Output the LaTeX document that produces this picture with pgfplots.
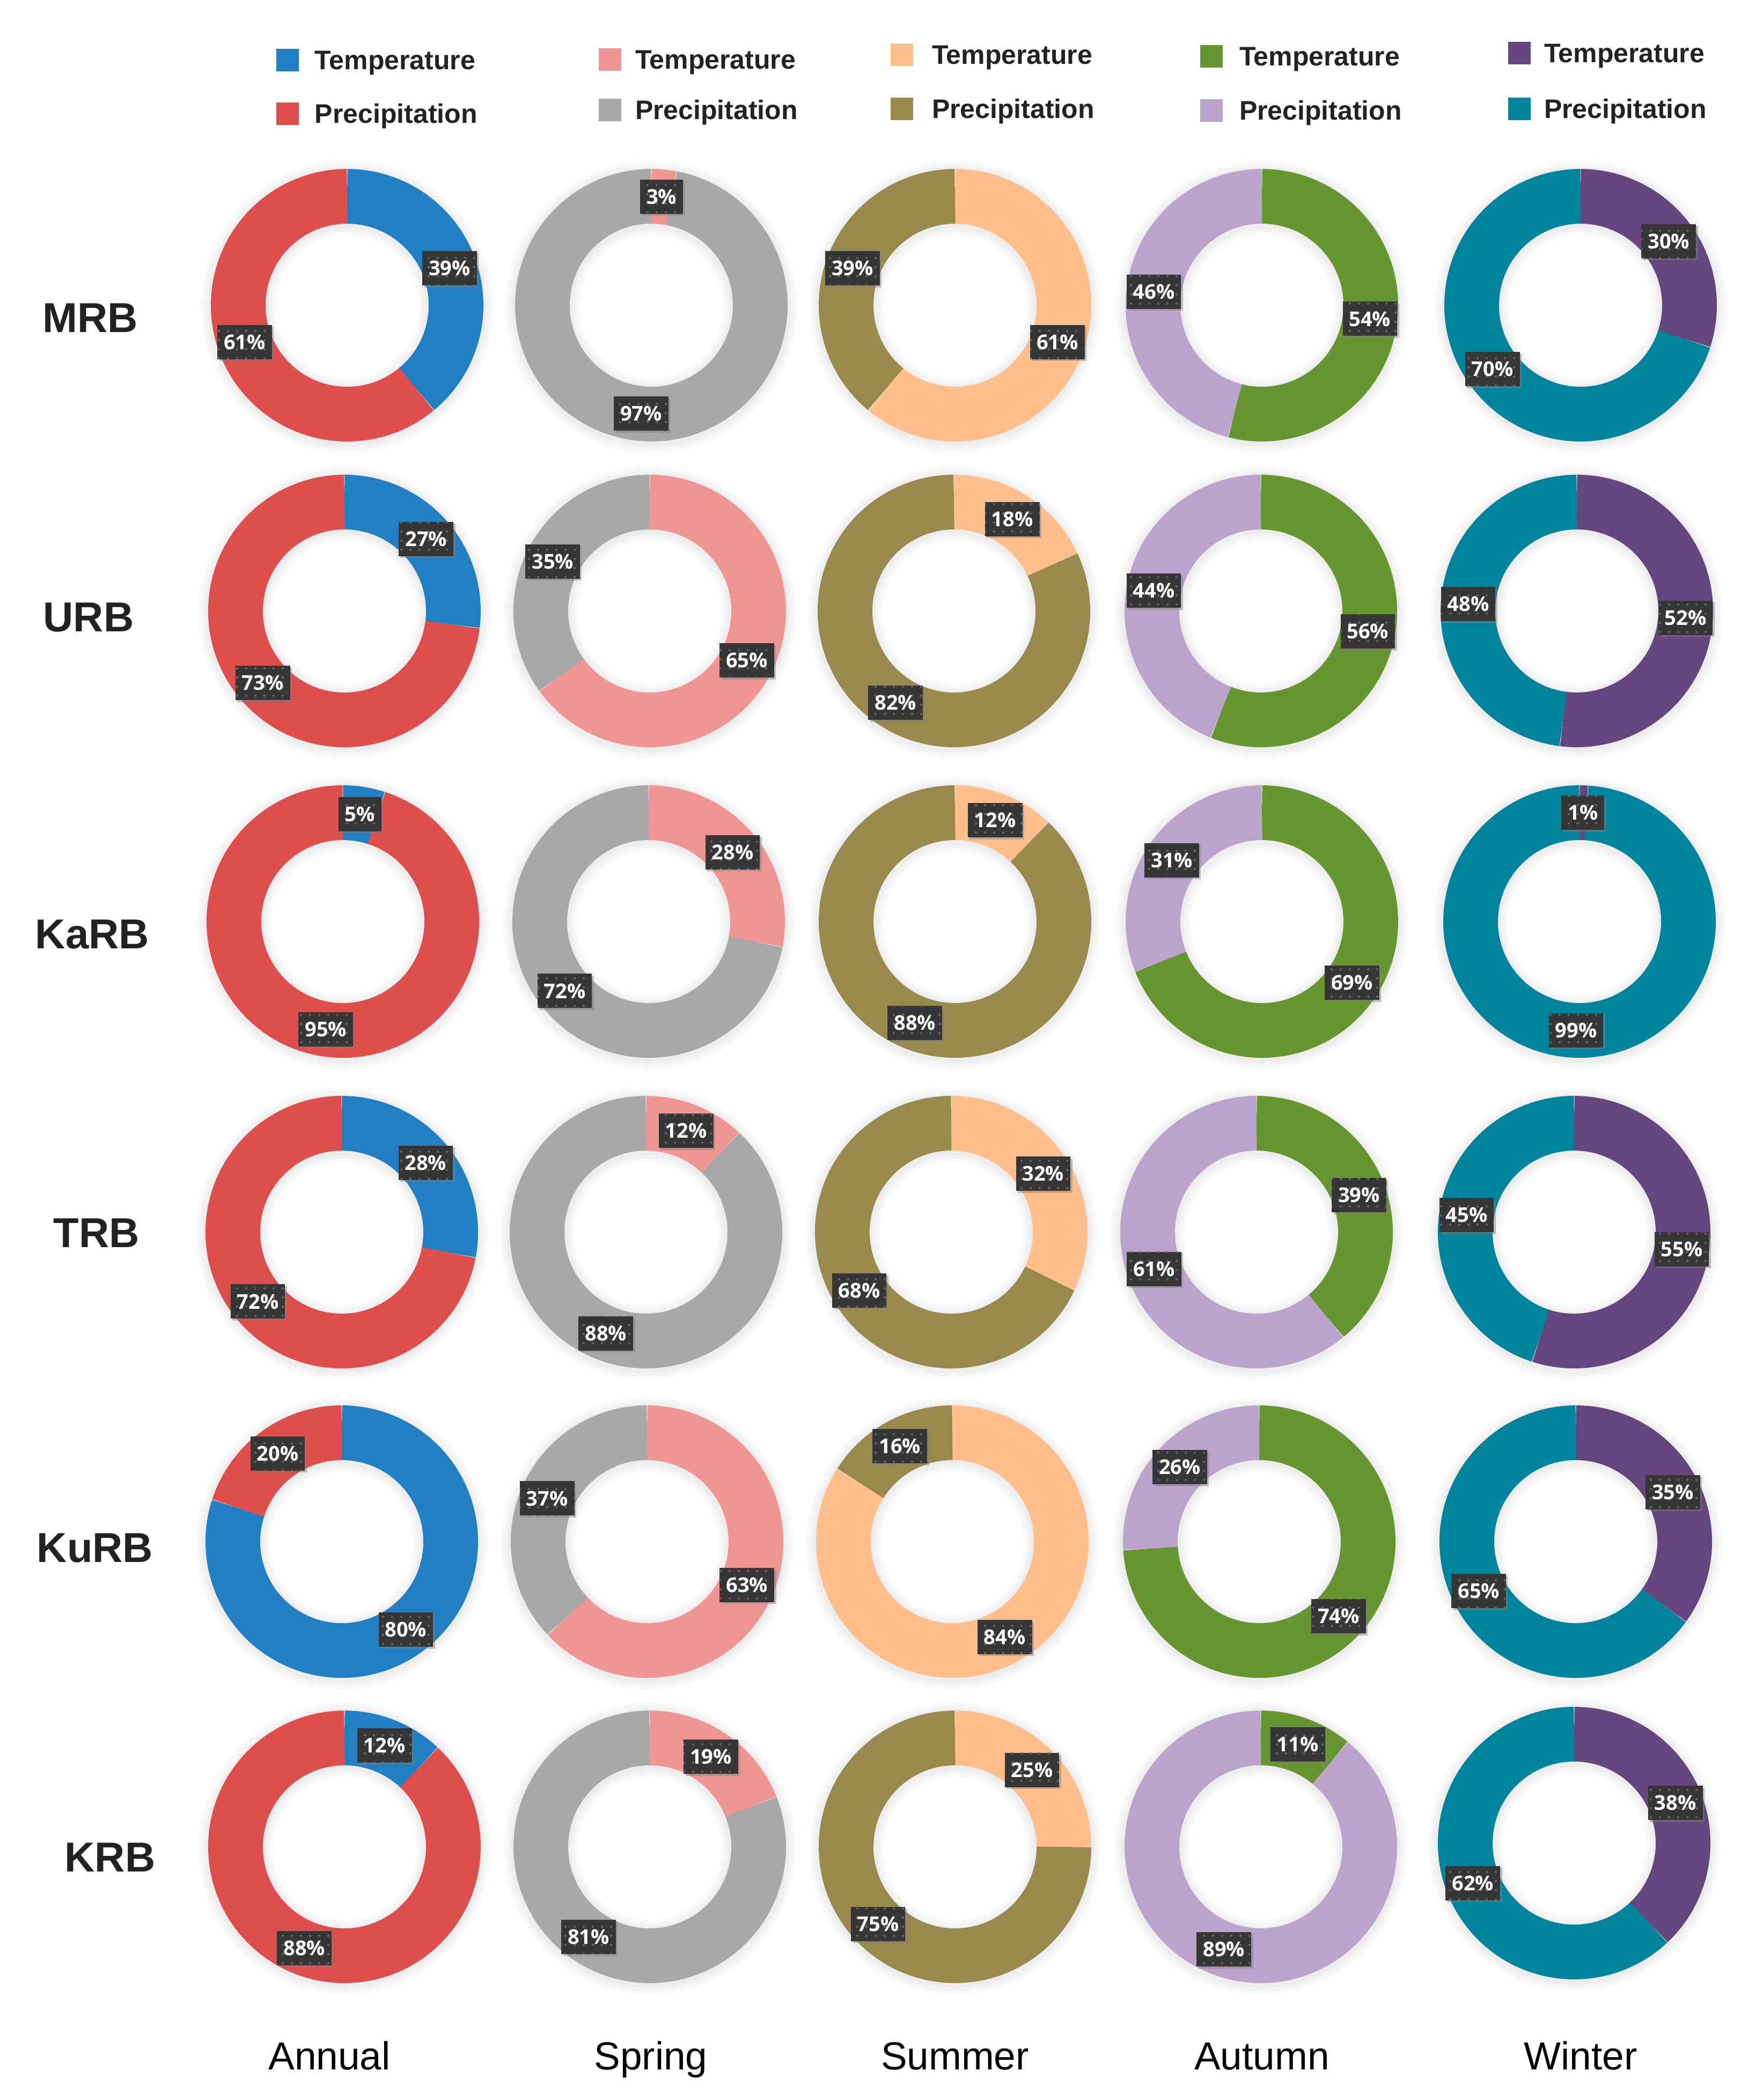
\documentclass[border=0pt]{standalone}
\usepackage{pgfplots}
\pgfplotsset{compat=1.18}
\usetikzlibrary{shadows, patterns.meta}
\usepackage{fontspec}
\setmainfont{Liberation Sans}
\newfontfamily\lblfont{Open Sans}

% palette: T = temperature, P = precipitation; a/s/u/t/w = annual, spring, summer, autumn, winter
\definecolor{cTa}{HTML}{2180C3}
\definecolor{cPa}{HTML}{DD4E4D}
\definecolor{cTs}{HTML}{EF9694}
\definecolor{cPs}{HTML}{A8A8A8}
\definecolor{cTu}{HTML}{FEBF8C}
\definecolor{cPu}{HTML}{98894C}
\definecolor{cTt}{HTML}{67952F}
\definecolor{cPt}{HTML}{BBA3CC}
\definecolor{cTw}{HTML}{64467F}
\definecolor{cPw}{HTML}{00849D}
\definecolor{boxgray}{HTML}{363636}
\definecolor{dotgray}{HTML}{646464}
\definecolor{txt}{HTML}{222222}

\tikzdeclarepattern{
  name=boxdots,
  type=uncolored,
  bottom left={(-.85pt,-.85pt)},
  top right={(.85pt,.85pt)},
  tile size={(1.7pt,1.7pt)},
  code={\pgfpathcircle{\pgfpointorigin}{0.22pt}\pgfusepath{fill}}
}

\tikzset{
  lbl/.style={fill=boxgray, text=white, font=\lblfont\bfseries\fontsize{3.8}{4}\selectfont,
    inner xsep=1.2pt, inner ysep=0pt, minimum height=6.4pt,
    drop shadow={shadow xshift=0.35pt, shadow yshift=-0.35pt, opacity=0.45},
    postaction={pattern={boxdots}, pattern color=dotgray}},
  leg/.style={anchor=base west, text=txt, font=\bfseries\fontsize{5}{6}\selectfont, inner sep=0pt},
  glow/.style={black, opacity=0.025},
}

% ring: outer radius 25.4pt, inner 15.2pt (=254 px / 152 px)
% \donut{cx}{cy}{temp %}{precip %}{temp colour}{precip colour}
\newcommand{\donut}[6]{%
  \coordinate (c) at (axis cs:#1,#2);
  \draw[glow, line width=3.6pt] ([yshift=-0.3pt]c) circle[radius=25.4pt];
  \draw[glow, line width=2.4pt] ([yshift=-0.3pt]c) circle[radius=25.4pt];
  \draw[glow, line width=1.2pt] ([yshift=-0.3pt]c) circle[radius=25.4pt];
  \draw[glow, line width=3.6pt] ([yshift=-0.3pt]c) circle[radius=15.2pt];
  \draw[glow, line width=2.4pt] ([yshift=-0.3pt]c) circle[radius=15.2pt];
  \draw[glow, line width=1.2pt] ([yshift=-0.3pt]c) circle[radius=15.2pt];
  \draw[line width=10.2pt, #5] ([shift={(90:20.3pt)}]c)
    arc[start angle=90, end angle={90-3.6*#3}, radius=20.3pt];
  \draw[line width=10.2pt, #6] ([shift={({90-3.6*#3}:20.3pt)}]c)
    arc[start angle={90-3.6*#3}, end angle=-270, radius=20.3pt];
  \node[lbl] at ([shift={({90-1.8*#3}:20.3pt)}]c) {#3\%};
  \node[lbl] at ([shift={({90-3.6*#3-1.8*#4}:20.3pt)}]c) {#4\%};
}

\begin{document}
\begin{tikzpicture}
\begin{axis}[
  x=0.1pt, y=0.1pt, y dir=reverse,
  xmin=0, xmax=3286, ymin=0, ymax=3915,
  hide axis, clip=false,
]
\path (axis cs:0,0) rectangle (axis cs:3286,3915);

% MRB
\donut{647}{569}{39}{61}{cTa}{cPa}
\donut{1214}{569}{3}{97}{cTs}{cPs}
\donut{1780}{569}{61}{39}{cTu}{cPu}
\donut{2352}{569}{54}{46}{cTt}{cPt}
\donut{2946}{569}{30}{70}{cTw}{cPw}
% URB
\donut{642}{1139}{27}{73}{cTa}{cPa}
\donut{1211}{1139}{65}{35}{cTs}{cPs}
\donut{1778}{1139}{18}{82}{cTu}{cPu}
\donut{2350}{1139}{56}{44}{cTt}{cPt}
\donut{2939}{1139}{52}{48}{cTw}{cPw}
% KaRB
\donut{639}{1718}{5}{95}{cTa}{cPa}
\donut{1209}{1718}{28}{72}{cTs}{cPs}
\donut{1780}{1718}{12}{88}{cTu}{cPu}
\donut{2352}{1718}{69}{31}{cTt}{cPt}
\donut{2944}{1718}{1}{99}{cTw}{cPw}
% TRB
\donut{637}{2297}{28}{72}{cTa}{cPa}
\donut{1204}{2297}{12}{88}{cTs}{cPs}
\donut{1773}{2297}{32}{68}{cTu}{cPu}
\donut{2342}{2297}{39}{61}{cTt}{cPt}
\donut{2934}{2297}{55}{45}{cTw}{cPw}
% KuRB
\donut{637}{2874}{80}{20}{cTa}{cPa}
\donut{1206}{2874}{63}{37}{cTs}{cPs}
\donut{1775}{2874}{84}{16}{cTu}{cPu}
\donut{2347}{2874}{74}{26}{cTt}{cPt}
\donut{2937}{2874}{35}{65}{cTw}{cPw}
% KRB
\donut{642}{3443}{12}{88}{cTa}{cPa}
\donut{1211}{3443}{19}{81}{cTs}{cPs}
\donut{1780}{3443}{25}{75}{cTu}{cPu}
\donut{2350}{3443}{11}{89}{cTt}{cPt}
\donut{2934}{3436}{38}{62}{cTw}{cPw}

% row labels
\foreach \nm/\xx/\yy in {MRB/168/619, URB/165/1177, KaRB/172/1768, TRB/180/2325, KuRB/177/2912, KRB/205/3489}{
  \edef\tmp{\noexpand\node[anchor=base, text=txt, inner sep=0pt, font=\noexpand\bfseries\noexpand\fontsize{7.8}{9}\noexpand\selectfont] at (axis cs:\xx,\yy) {\nm};}\tmp
}
% column labels
\foreach \nm/\xx in {Annual/614, Spring/1213, Summer/1780, Autumn/2352, Winter/2946}{
  \edef\tmp{\noexpand\node[anchor=base, inner sep=0pt, font=\noexpand\fontsize{7.3}{9}\noexpand\selectfont] at (axis cs:\xx,3858) {\nm};}\tmp
}

% legends
\foreach \sx/\tx/\ya/\yb/\ca/\cb in {536/585/112/212/cTa/cPa, 1137/1182/111/205/cTs/cPs,
    1681/1735/102/203/cTu/cPu, 2258/2308/105/206/cTt/cPt, 2832/2876/99/203/cTw/cPw}{
  \edef\tmp{%
    \noexpand\fill[\ca] (axis cs:\sx-21,\ya-21) rectangle (axis cs:\sx+21,\ya+21);
    \noexpand\fill[\cb] (axis cs:\sx-21,\yb-21) rectangle (axis cs:\sx+21,\yb+21);
    \noexpand\node[leg] at (axis cs:\tx,\ya+17) {Temperature};
    \noexpand\node[leg] at (axis cs:\tx,\yb+17) {Precipitation};
  }\tmp
}
\end{axis}
\end{tikzpicture}
\end{document}
